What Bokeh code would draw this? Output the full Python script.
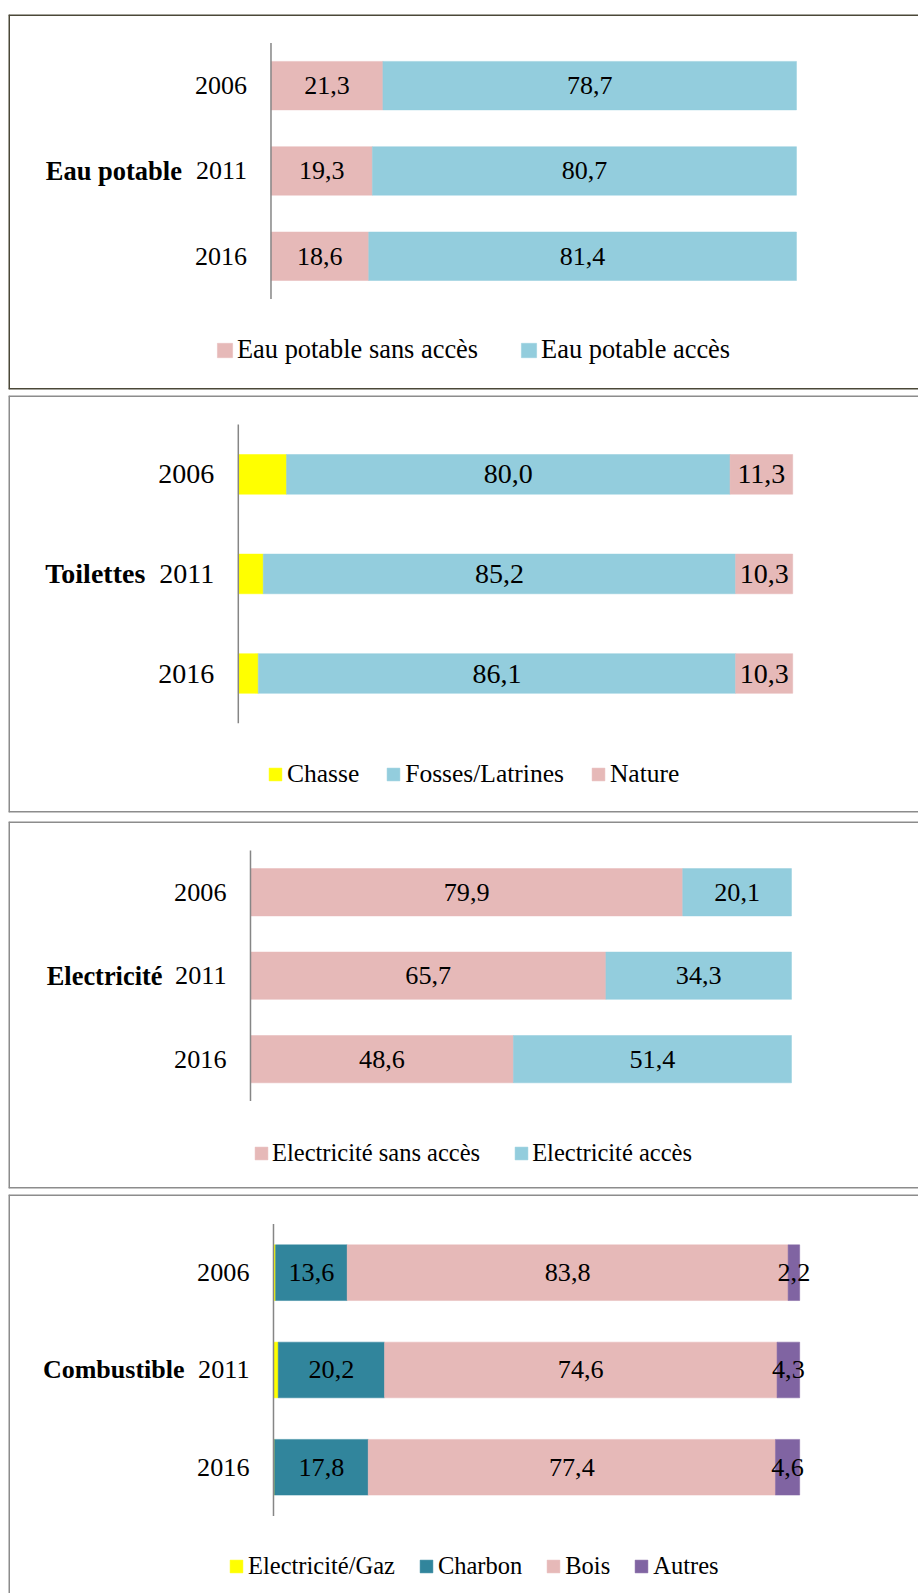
from bokeh.plotting import figure
from bokeh.models import ColumnDataSource, Range1d, Span
from bokeh.layouts import column
from bokeh.embed import file_html
from bokeh.resources import INLINE
from bokeh.core.properties import value

# ---------------- data ----------------
years = ["2006", "2011", "2016"]
year_num = [2006, 2011, 2016]

eau_title = "Eau potable"
eau_names = ["Eau potable sans accès", "Eau potable accès"]
eau_sans = [21.3, 19.3, 18.6]
eau_acces = [78.7, 80.7, 81.4]

toil_title = "Toilettes"
toil_names = ["Chasse", "Fosses/Latrines", "Nature"]
toil_chasse = [8.7, 4.5, 3.6]
toil_fosses = [80.0, 85.2, 86.1]
toil_nature = [11.3, 10.3, 10.3]

elec_title = "Electricité"
elec_names = ["Electricité sans accès", "Electricité accès"]
elec_sans = [79.9, 65.7, 48.6]
elec_acces = [20.1, 34.3, 51.4]

comb_title = "Combustible"
comb_names = ["Electricité/Gaz", "Charbon", "Bois", "Autres"]
comb_elec = [0.4, 0.9, 0.2]
comb_charbon = [13.6, 20.2, 17.8]
comb_bois = [83.8, 74.6, 77.4]
comb_autres = [2.2, 4.3, 4.6]

# ---------------- styles ----------------
PINK = "#E6B9B8"
BLUE = "#93CDDD"
YELLOW = "#FFFF00"
TEAL = "#31859C"
PURPLE = "#8064A2"
FONT = value("Liberation Serif")


def fmt(v):
    return ("%.1f" % v).replace(".", ",")


def make_panel(title, names, series, colors, show, g):
    p = figure(width=918, height=g["h"], output_backend="svg", toolbar_location=None,
               x_range=Range1d(g["xs"], g["xe"]), y_range=Range1d(g["yb"], g["yt"]),
               x_axis_location=None, y_axis_location=None, tools="")
    p.min_border_left = 8
    p.min_border_right = 0
    p.min_border_top = g["mt"]
    p.min_border_bottom = g["mb"]
    p.xgrid.grid_line_color = None
    p.ygrid.grid_line_color = None
    p.outline_line_color = None
    p.background_fill_color = "white"
    p.border_fill_color = "white"

    # panel border: left, top (and bottom when visible)
    p.add_layout(Span(location=g["xs"], dimension="height", line_color=g["oc"], line_width=3))
    p.add_layout(Span(location=g["yt"], dimension="width", line_color=g["oc"], line_width=3))
    if g["bottom"]:
        p.add_layout(Span(location=g["yb"], dimension="width", line_color=g["oc"], line_width=3))

    keys = ["s%d" % i for i in range(len(series))]
    data = {"y": year_num}
    for k, s in zip(keys, series):
        data[k] = s
    src = ColumnDataSource(data)
    p.hbar_stack(keys, y="y", height=g["bh"], color=colors, source=src,
                 legend_label=names, line_width=0.5)

    # data labels (centred in their segment)
    lx, ly, lt = [], [], []
    for j in range(len(year_num)):
        left = 0.0
        for i, s in enumerate(series):
            if show[i]:
                lx.append(left + s[j] / 2.0)
                ly.append(year_num[j])
                lt.append(fmt(s[j]))
            left += s[j]
    p.text(x=lx, y=ly, text=lt, text_align="center", text_baseline="middle",
           text_font=FONT, text_font_size=g["fs"], text_color="black")

    # category axis line
    step = year_num[1] - year_num[0]
    p.segment(x0=[0], y0=[year_num[0] - step / 2.0], x1=[0], y1=[year_num[-1] + step / 2.0],
              line_color="#868686", line_width=1.5)

    # tick labels and group label
    p.text(x=[0] * len(years), y=year_num, text=years, x_offset=-24,
           text_align="right", text_baseline="middle",
           text_font=FONT, text_font_size=g["fs"], text_color="black")
    p.text(x=[0], y=[year_num[1]], text=[title], x_offset=g["bo"],
           text_align="right", text_baseline="middle",
           text_font=FONT, text_font_size=g["bfs"], text_font_style="bold",
           text_color="black")

    lg = p.legend[0]
    lg.orientation = "horizontal"
    lg.location = g["loc"]
    lg.border_line_color = None
    lg.background_fill_alpha = 0
    lg.padding = 0
    lg.margin = 0
    lg.spacing = g["sp"]
    lg.label_standoff = g["ls"]
    lg.glyph_width = g["gw"]
    lg.glyph_height = g["gh"]
    lg.label_text_font = "Liberation Serif"
    lg.label_text_font_size = g["lfs"]
    lg.label_text_color = "black"
    return p


g1 = dict(h=392, mt=14, mb=3, xs=-49.95, xe=123.22, yb=2023.81, yt=2001.83, bh=2.843,
          oc="#4B4838", loc=(207, 24), sp=41, ls=3, gw=19, gh=18, bottom=True,
          fs="26px", bfs="26.5px", lfs="26.4px", bo=-89)
g2 = dict(h=425, mt=3, mb=5, xs=-41.45, xe=122.69, yb=2022.98, yt=2002.04, bh=1.993,
          oc="#8C8C8C", loc=(259, 23), sp=26, ls=4, gw=16, gh=16, bottom=True,
          fs="28px", bfs="28px", lfs="25.5px", bo=-93)
g3 = dict(h=374, mt=4, mb=3, xs=-44.73, xe=123.48, yb=2023.75, yt=2001.76, bh=2.834,
          oc="#8C8C8C", loc=(245, 21), sp=33, ls=3, gw=16, gh=16, bottom=True,
          fs="26.2px", bfs="26.4px", lfs="24.5px", bo=-88)
g4 = dict(h=402, mt=3, mb=0, xs=-50.36, xe=122.58, yb=2022.49, yt=2001.98, bh=2.862,
          oc="#8C8C8C", loc=(220, 13), sp=23, ls=4, gw=16, gh=16, bottom=False,
          fs="26.2px", bfs="26px", lfs="24.5px", bo=-89)

p1 = make_panel(eau_title, eau_names, [eau_sans, eau_acces], [PINK, BLUE], [True, True], g1)
p2 = make_panel(toil_title, toil_names, [toil_chasse, toil_fosses, toil_nature],
                [YELLOW, BLUE, PINK], [False, True, True], g2)
p3 = make_panel(elec_title, elec_names, [elec_sans, elec_acces], [PINK, BLUE], [True, True], g3)
p4 = make_panel(comb_title, comb_names, [comb_elec, comb_charbon, comb_bois, comb_autres],
                [YELLOW, TEAL, PINK, PURPLE], [False, True, True, True], g4)

layout = column(p1, p2, p3, p4, spacing=0)
open("out.html", "w").write(file_html(layout, INLINE))
